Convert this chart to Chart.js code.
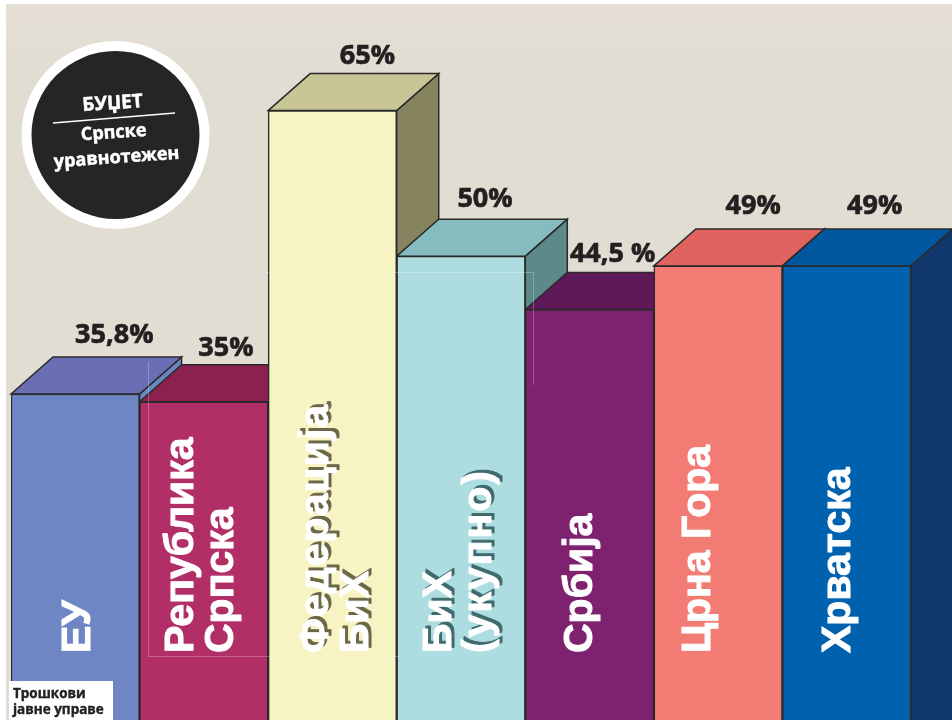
<!DOCTYPE html>
<html>
<head>
<meta charset="utf-8">
<title>Трошкови јавне управе</title>
<style>
  html, body { margin: 0; padding: 0; background: #fff; }
  canvas { display: block; }
</style>
<script src="https://cdn.jsdelivr.net/npm/chart.js@4"></script>
</head>
<body>
<canvas id="chart" width="952" height="720"></canvas>
<script>
const categories = [['ЕУ'], ['Република', 'Српска'], ['Федерација', 'БиХ'], ['БиХ', '(укупно)'], ['Србија'], ['Црна Гора'], ['Хрватска']];
const values = [35.8, 35, 65, 50, 44.5, 49, 49];
const valueLabels = ['35,8%', '35%', '65%', '50%', '44,5 %', '49%', '49%'];
const frontColors = ['#6f86c4', '#b12e66', '#f7f3c3', '#addde0', '#7e2270', '#f27b74', '#0061ae'];
const topColors = ['#6a6eb4', '#8a214e', '#c8c596', '#85bcc0', '#5f1858', '#e0635f', '#0057a0'];
const sideColors = ['#6a86c0', '#6e1a40', '#86835f', '#5d8989', '#4d1248', '#b04a48', '#10386c'];
const shadowColors = [null, null, '#6b6848', '#3f6a6e', null, null, null];

// text placement relative to each bar: center x, top y
const valueOffsetX = [39, 22, 35, 24, 23, 35, 28];
const valueOffsetY = [-51, -46, -47, -49, -48, -52, -52];
const nameOffsetX = [15, -11, -4, -10, 2, -8, 3];
const lineGap = 40;
const nameSpacing = { 'Федерација': '1px', '(укупно)': '2px' };

const DX = 42, DY = 37;

function face(ctx, pts, fill) {
  ctx.beginPath();
  pts.forEach((p, i) => (i ? ctx.lineTo(p[0], p[1]) : ctx.moveTo(p[0], p[1])));
  ctx.closePath();
  ctx.fillStyle = fill;
  ctx.fill();
  ctx.lineWidth = 1.5;
  ctx.strokeStyle = '#2a2a2a';
  ctx.stroke();
}

function heavyText(ctx, text, x, y, color, weight) {
  ctx.fillStyle = color;
  ctx.strokeStyle = color;
  ctx.lineWidth = weight;
  ctx.lineJoin = 'round';
  ctx.strokeText(text, x, y);
  ctx.fillText(text, x, y);
}

function tiltedText(ctx, text, x, y, font) {
  ctx.save();
  ctx.translate(x, y);
  ctx.rotate(-4 * Math.PI / 180);
  ctx.font = font;
  ctx.textAlign = 'center';
  heavyText(ctx, text, 0, 0, '#fff', 0.5);
  ctx.restore();
}

const barDecor = {
  id: 'barDecor',
  beforeDraw(chart) {
    const ctx = chart.ctx;
    const bg = ctx.createLinearGradient(0, 4, 0, 60);
    bg.addColorStop(0, '#e5dfd6');
    bg.addColorStop(1, '#e2ddd3');
    ctx.save();
    ctx.fillStyle = bg;
    ctx.fillRect(6, 4, 946, 716);
    ctx.restore();
  },
  // side and top faces go under the fronts, left to right
  beforeDatasetsDraw(chart) {
    const ctx = chart.ctx;
    const bars = chart.getDatasetMeta(0).data;
    ctx.save();
    bars.forEach((bar, i) => {
      const l = bar.x - bar.width / 2, r = bar.x + bar.width / 2, t = bar.y, b = bar.base;
      face(ctx, [[r, t], [r + DX, t - DY], [r + DX, b], [r, b]], sideColors[i]);
      face(ctx, [[l, t], [l + DX, t - DY], [r + DX, t - DY], [r, t]], topColors[i]);
    });
    ctx.restore();
  },
  afterDatasetsDraw(chart) {
    const ctx = chart.ctx;
    const bars = chart.getDatasetMeta(0).data;
    ctx.save();

    // percent labels over the bars
    ctx.font = 'bold 27px "Open Sans"';
    ctx.textAlign = 'center';
    ctx.textBaseline = 'alphabetic';
    bars.forEach((bar, i) => {
      heavyText(ctx, valueLabels[i], bar.x + valueOffsetX[i], bar.y + valueOffsetY[i], '#231f20', 0.7);
    });

    // rotated names inside the bars
    ctx.font = 'bold 41px "Liberation Sans"';
    ctx.textAlign = 'left';
    const drawName = (text, x, y, color) => {
      ctx.save();
      ctx.translate(x, y);
      ctx.rotate(-Math.PI / 2);
      ctx.letterSpacing = nameSpacing[text] || '0px';
      heavyText(ctx, text, 0, 0, color, 1);
      ctx.restore();
    };
    bars.forEach((bar, i) => {
      categories[i].forEach((line, j) => {
        const x = bar.x + nameOffsetX[i] + j * lineGap;
        if (shadowColors[i]) drawName(line, x + 3, 650, shadowColors[i]);
        drawName(line, x, 653, '#fff');
      });
    });

    // faint print frame that runs across the bars
    ctx.strokeStyle = 'rgba(255,255,255,0.25)';
    ctx.lineWidth = 1;
    ctx.beginPath();
    ctx.moveTo(148.5, 362);
    ctx.lineTo(148.5, 656.5);
    ctx.lineTo(400, 656.5);
    ctx.moveTo(268, 272.5);
    ctx.lineTo(533.5, 272.5);
    ctx.lineTo(533.5, 385);
    ctx.stroke();

    // round badge
    ctx.fillStyle = '#fff';
    ctx.beginPath();
    ctx.arc(115.5, 135, 94, 0, Math.PI * 2);
    ctx.fill();
    ctx.fillStyle = '#262524';
    ctx.beginPath();
    ctx.arc(115.5, 135, 84, 0, Math.PI * 2);
    ctx.fill();
    tiltedText(ctx, 'БУЏЕТ', 113, 109, 'bold 19px "Open Sans"');
    ctx.strokeStyle = '#fff';
    ctx.lineWidth = 1.5;
    ctx.beginPath();
    ctx.moveTo(53, 123);
    ctx.lineTo(175, 113);
    ctx.stroke();
    tiltedText(ctx, 'Српске', 114, 138, 'bold 18px "Open Sans"');
    tiltedText(ctx, 'уравнотежен', 117, 163, 'bold 18px "Open Sans"');

    // caption box
    ctx.fillStyle = '#fff';
    ctx.fillRect(9, 681, 104, 39);
    ctx.font = 'bold 13.5px "Open Sans"';
    ctx.textAlign = 'left';
    heavyText(ctx, 'Трошкови', 13, 698, '#231f20', 0.4);
    heavyText(ctx, 'јавне управе', 13, 714, '#231f20', 0.4);
    ctx.restore();
  }
};

new Chart(document.getElementById('chart'), {
  type: 'bar',
  data: {
    labels: categories,
    datasets: [{
      data: values,
      backgroundColor: frontColors,
      borderColor: '#2a2a2a',
      borderWidth: 1.5,
      barPercentage: 1,
      categoryPercentage: 1
    }]
  },
  options: {
    responsive: false,
    animation: false,
    devicePixelRatio: 1,
    layout: { padding: { left: 11, right: 41, top: 0, bottom: 0 } },
    plugins: { legend: { display: false }, tooltip: { enabled: false } },
    scales: {
      x: { display: false },
      y: { display: false, min: 2.2, max: 76.4 }
    }
  },
  plugins: [barDecor]
});
</script>
</body>
</html>
